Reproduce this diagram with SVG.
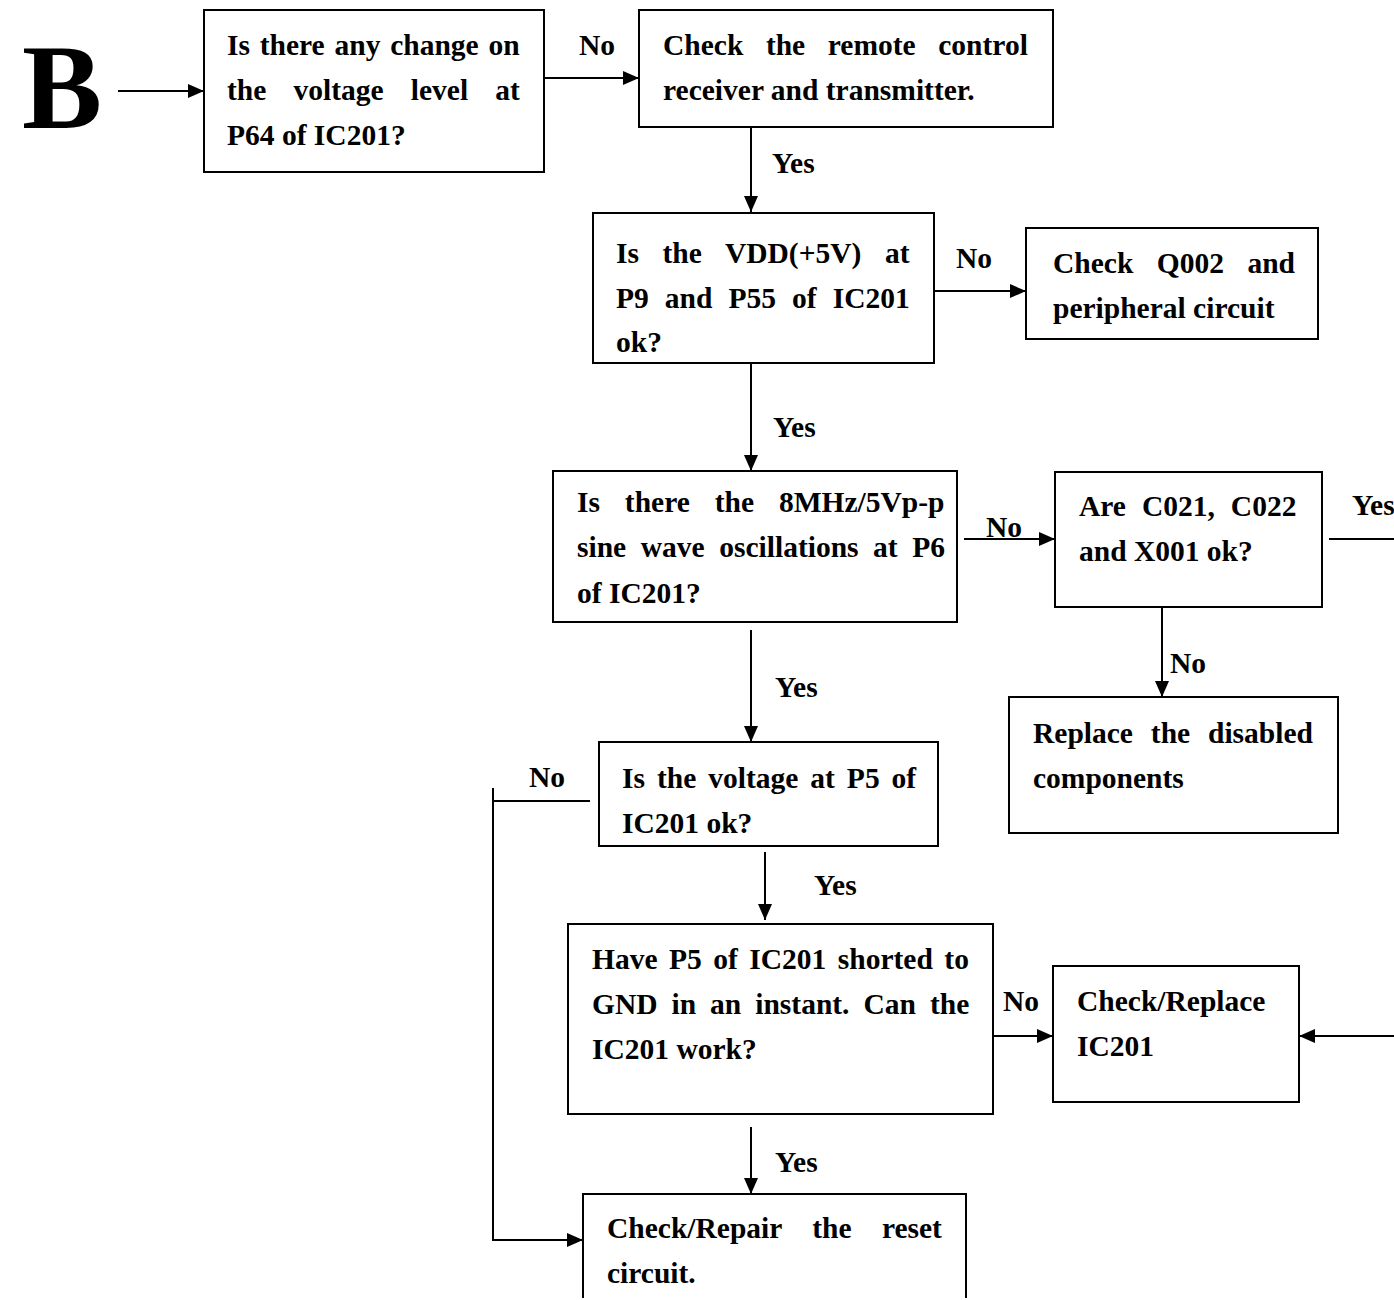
<svg xmlns="http://www.w3.org/2000/svg" width="1394" height="1300" viewBox="0 0 1394 1300">
  <style>
    .box { fill: #ffffff; stroke: #000000; stroke-width: 2; }
    .t { font-family: "Liberation Serif", "Times New Roman", serif; font-weight: bold; font-size: 29.5px; fill: #000000; }
    .big { font-family: "Liberation Serif", "Times New Roman", serif; font-weight: bold; font-size: 120px; fill: #000000; }
    .ln { fill: none; stroke: #000000; stroke-width: 2; }
    .arr { marker-end: url(#head); }
  </style>
  <defs>
    <marker id="head" markerUnits="userSpaceOnUse" markerWidth="16" markerHeight="14" refX="16" refY="7" orient="auto">
      <path d="M0,0 L16,7 L0,14 z" fill="#000000"/>
    </marker>
  </defs>
  <rect width="1394" height="1300" fill="#ffffff"/>

  <text class="big" x="22" y="128">B</text>

  <!-- connectors -->
  <g id="connectors">
    <line class="ln arr" x1="118" y1="91" x2="204" y2="91"/>
    <line class="ln arr" x1="544" y1="78" x2="639" y2="78"/>
    <text class="t" x="579" y="55">No</text>
    <line class="ln arr" x1="751" y1="127" x2="751" y2="212"/>
    <text class="t" x="772" y="173">Yes</text>
    <line class="ln arr" x1="934" y1="291" x2="1026" y2="291"/>
    <text class="t" x="956" y="268">No</text>
    <line class="ln arr" x1="751" y1="363" x2="751" y2="471"/>
    <text class="t" x="773" y="437">Yes</text>
    <line class="ln arr" x1="964" y1="539" x2="1055" y2="539"/>
    <text class="t" x="986" y="537">No</text>
    <line class="ln" x1="1329" y1="539" x2="1394" y2="539"/>
    <text class="t" x="1352" y="515">Yes</text>
    <line class="ln arr" x1="1162" y1="607" x2="1162" y2="697"/>
    <text class="t" x="1170" y="673">No</text>
    <line class="ln arr" x1="751" y1="630" x2="751" y2="742"/>
    <text class="t" x="775" y="697">Yes</text>
    <line class="ln" x1="590" y1="801" x2="493" y2="801"/>
    <line class="ln" x1="493" y1="788" x2="493" y2="1240"/>
    <line class="ln arr" x1="492" y1="1240" x2="583" y2="1240"/>
    <text class="t" x="529" y="787">No</text>
    <line class="ln arr" x1="765" y1="852" x2="765" y2="920"/>
    <text class="t" x="814" y="895">Yes</text>
    <line class="ln arr" x1="993" y1="1036" x2="1053" y2="1036"/>
    <text class="t" x="1003" y="1011">No</text>
    <line class="ln arr" x1="1394" y1="1036" x2="1299" y2="1036"/>
    <line class="ln arr" x1="751" y1="1127" x2="751" y2="1194"/>
    <text class="t" x="775" y="1172">Yes</text>
  </g>

  <g id="n1">
    <rect class="box" x="204" y="10" width="340" height="162"/>
    <text class="t" x="227" y="55" word-spacing="2.4">Is there any change on</text>
    <text class="t" x="227" y="100" word-spacing="19.8">the voltage level at</text>
    <text class="t" x="227" y="145">P64 of IC201?</text>
  </g>

  <g id="n2">
    <rect class="box" x="639" y="10" width="414" height="117"/>
    <text class="t" x="663" y="55" word-spacing="15.2">Check the remote control</text>
    <text class="t" x="663" y="100">receiver and transmitter.</text>
  </g>

  <g id="n3">
    <rect class="box" x="593" y="213" width="341" height="150"/>
    <text class="t" x="616" y="263" word-spacing="16.2">Is the VDD(+5V) at</text>
    <text class="t" x="616" y="308" word-spacing="8.7">P9 and P55 of IC201</text>
    <text class="t" x="616" y="352">ok?</text>
  </g>

  <g id="n4">
    <rect class="box" x="1026" y="228" width="292" height="111"/>
    <text class="t" x="1053" y="273" word-spacing="16.1">Check Q002 and</text>
    <text class="t" x="1053" y="318">peripheral circuit</text>
  </g>

  <g id="n5">
    <rect class="box" x="553" y="471" width="404" height="151"/>
    <text class="t" x="577" y="512" word-spacing="17.5">Is there the 8MHz/5Vp-p</text>
    <text class="t" x="577" y="557" word-spacing="7.2">sine wave oscillations at P6</text>
    <text class="t" x="577" y="603">of IC201?</text>
  </g>

  <g id="n6">
    <rect class="box" x="1055" y="472" width="267" height="135"/>
    <text class="t" x="1079" y="516" word-spacing="8.6">Are C021, C022</text>
    <text class="t" x="1079" y="561">and X001 ok?</text>
  </g>

  <g id="n7">
    <rect class="box" x="1009" y="697" width="329" height="136"/>
    <text class="t" x="1033" y="743" word-spacing="10.5">Replace the disabled</text>
    <text class="t" x="1033" y="788">components</text>
  </g>

  <g id="n8">
    <rect class="box" x="599" y="742" width="339" height="104"/>
    <text class="t" x="622" y="788" word-spacing="4.6">Is the voltage at P5 of</text>
    <text class="t" x="622" y="833">IC201 ok?</text>
  </g>

  <g id="n9">
    <rect class="box" x="568" y="924" width="425" height="190"/>
    <text class="t" x="592" y="969" word-spacing="4.1">Have P5 of IC201 shorted to</text>
    <text class="t" x="592" y="1014" word-spacing="6.6">GND in an instant. Can the</text>
    <text class="t" x="592" y="1059">IC201 work?</text>
  </g>

  <g id="n10">
    <rect class="box" x="1053" y="966" width="246" height="136"/>
    <text class="t" x="1077" y="1011">Check/Replace</text>
    <text class="t" x="1077" y="1056">IC201</text>
  </g>

  <g id="n11">
    <path class="box" d="M583,1298 L583,1194 L966,1194 L966,1298"/>
    <text class="t" x="607" y="1238" word-spacing="23">Check/Repair the reset</text>
    <text class="t" x="607" y="1283">circuit.</text>
  </g>
</svg>
